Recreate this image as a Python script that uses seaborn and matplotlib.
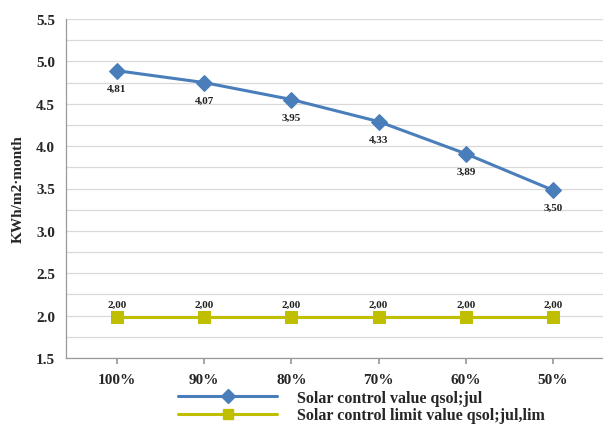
import matplotlib
matplotlib.use("Agg")
import matplotlib.pyplot as plt
import seaborn as sns
import numpy as np
import pandas as pd
from matplotlib.lines import Line2D

categories = ["100%", "90%", "80%", "70%", "60%", "50%"]
solar_values = [4.89, 4.75, 4.55, 4.29, 3.91, 3.48]
solar_labels = ["4,81", "4,07", "3,95", "4,33", "3,89", "3,50"]
limit_values = [1.98, 1.98, 1.98, 1.98, 1.98, 1.98]
limit_labels = ["2,00", "2,00", "2,00", "2,00", "2,00", "2,00"]
series_names = ["Solar control value qsol;jul", "Solar control limit value qsol;jul,lim"]
y_ticks = [1.5, 2.0, 2.5, 3.0, 3.5, 4.0, 4.5, 5.0, 5.5]

sns.set_theme(style="white")
plt.rcParams['font.family'] = ['Liberation Serif', 'DejaVu Serif']

blue = "#4A7EBB"
yellow = "#BFBF00"

fig = plt.figure(figsize=(6.03, 4.27), dpi=100)
W, H = 603, 427
ax = fig.add_axes([66 / W, (H - 359) / H, (W - 66) / W, (359 - 20) / H])

x = np.arange(len(categories))
df1 = pd.DataFrame({"x": x, "y": solar_values})
df2 = pd.DataFrame({"x": x, "y": limit_values})

sns.lineplot(data=df1, x="x", y="y", ax=ax, color=blue, linewidth=2.2,
             marker="D", markersize=8, markeredgecolor=blue, sort=False, zorder=3)
sns.lineplot(data=df2, x="x", y="y", ax=ax, color=yellow, linewidth=2.2,
             marker="s", markersize=8, markeredgecolor=yellow, sort=False, zorder=3)

for xi, yi, lab in zip(x, solar_values, solar_labels):
    ax.annotate(lab, (xi, yi), xytext=(0, -12.5), textcoords="offset points",
                ha="center", va="center", fontsize=8, fontweight="bold", color="#222222")
for xi, yi, lab in zip(x, limit_values, limit_labels):
    ax.annotate(lab, (xi, yi), xytext=(0, 9.5), textcoords="offset points",
                ha="center", va="center", fontsize=8, fontweight="bold", color="#222222")

spacing = 87.2
ax.set_xlim(-51 / spacing, 5 + (W - 553) / spacing)
ax.set_ylim(1.5, 5.5)
ax.set_yticks(y_ticks)
ax.set_yticklabels([f"{v:.1f}" for v in y_ticks], fontsize=11, fontweight="bold")
ax.set_yticks(np.arange(1.75, 5.5, 0.5), minor=True)
ax.set_xticks(x)
ax.set_xticklabels(categories, fontsize=11, fontweight="bold")
ax.grid(True, which="both", axis="y", color="#D9D9D9", linewidth=0.9)
ax.set_axisbelow(True)
ax.set_xlabel("")
ax.set_ylabel("KWh/m2·month", fontsize=11, fontweight="bold", labelpad=8)

for s in ["top", "right"]:
    ax.spines[s].set_visible(False)
for s in ["left", "bottom"]:
    ax.spines[s].set_color("#999999")
    ax.spines[s].set_linewidth(0.9)
ax.tick_params(axis="x", which="major", length=4, color="#999999", pad=7, bottom=True)
ax.tick_params(axis="y", which="both", length=0, pad=8)

handles = [
    Line2D([0], [0], color=blue, lw=2.2, marker="D", markersize=7),
    Line2D([0], [0], color=yellow, lw=2.2, marker="s", markersize=7),
]
fig.legend(handles, series_names, loc="upper left", bbox_to_anchor=(178 / W, 1 - 391 / H),
           frameon=False, handlelength=6.2, handletextpad=1.25, labelspacing=0.08,
           borderpad=0, borderaxespad=0,
           prop={"family": "Liberation Serif", "weight": "bold", "size": 11.5})

fig.savefig("out.png", dpi=100)
